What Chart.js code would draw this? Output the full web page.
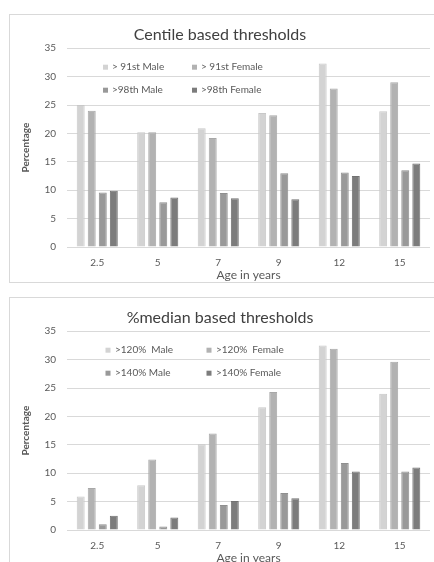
<!DOCTYPE html>
<html>
<head>
<meta charset="utf-8">
<script src="https://cdn.jsdelivr.net/npm/chart.js@4"></script>
<style>
  body { margin: 0; width: 434px; height: 562px; overflow: hidden; background: #fff; position: relative; }
  .frame { position: absolute; left: 9px; width: 425px; height: 267px; border: 1px solid #d9d9d9; }
  .frame canvas { display: block; }
</style>
</head>
<body>
<div class="frame" style="top:14px"><canvas id="centile" width="425" height="267"></canvas></div>
<div class="frame" style="top:297px"><canvas id="median" width="425" height="267"></canvas></div>
<script>
// categories
var ages = ['2.5', '5', '7', '9', '12', '15'];

// centile based thresholds
var centileLabels = ['> 91st Male', '> 91st Female', '>98th Male', '>98th Female'];
var centile91Male   = [25.0, 20.2, 20.9, 23.6, 32.3, 23.9];
var centile91Female = [24.0, 20.2, 19.2, 23.2, 27.9, 29.0];
var centile98Male   = [9.6, 7.9, 9.5, 13.0, 13.1, 13.5];
var centile98Female = [9.9, 8.7, 8.6, 8.4, 12.5, 14.7];

// %median based thresholds
var medianLabels = ['>120%  Male', '>120%  Female', '>140% Male', '>140% Female'];
var median120Male   = [5.9, 7.9, 15.1, 21.6, 32.5, 24.0];
var median120Female = [7.4, 12.4, 17.0, 24.3, 31.9, 29.6];
var median140Male   = [1.0, 0.6, 4.4, 6.5, 11.8, 10.3];
var median140Female = [2.5, 2.2, 5.1, 5.6, 10.3, 11.0];

var fills   = ['#d3d3d3', '#b2b2b2', '#999999', '#7c7c7c'];
var borders = ['#c8c8c8', '#a8a8a8', '#8f8f8f', '#727272'];
var FONT = 'Lato, "Open Sans", sans-serif';

// legend drawn inside the plot, 2 x 2
var insideLegend = {
  id: 'insideLegend',
  afterDatasetsDraw: function(chart, args, opts) {
    var ctx = chart.ctx, a = chart.chartArea;
    ctx.save();
    ctx.font = '10px ' + FONT;
    ctx.textBaseline = 'middle';
    chart.data.datasets.forEach(function(ds, i) {
      var x = a.left + opts.cols[i % 2];
      var y = a.top + opts.rows[Math.floor(i / 2)];
      ctx.fillStyle = ds.backgroundColor;
      ctx.fillRect(x - 2.5, y - 2.5, 5, 5);
      ctx.fillStyle = '#595959';
      ctx.fillText(ds.label, x + opts.gap, y);
    });
    ctx.restore();
  }
};

var drawChart = function(id, title, labels, series, legendCols, legendGap) {
  var ctx = document.getElementById(id).getContext('2d');
  var datasets = series.map(function(s, i) {
    return {
      label: labels[i], data: s,
      backgroundColor: fills[i], borderColor: borders[i], borderWidth: 1,
      categoryPercentage: 0.73, barPercentage: 0.72
    };
  });
  new Chart(ctx, {
    type: 'bar',
    data: { labels: ages, datasets: datasets },
    plugins: [insideLegend],
    options: {
      responsive: false,
      animation: false,
      layout: { padding: { left: 0, right: 5, top: 0, bottom: 0 } },
      plugins: {
        legend: { display: false },
        tooltip: { enabled: false },
        title: {
          display: true, text: title, color: '#404040',
          font: { family: FONT, size: 16, weight: 'normal' },
          padding: { top: 10, bottom: 4 }
        },
        insideLegend: { cols: legendCols, rows: [19, 42], gap: legendGap }
      },
      scales: {
        x: {
          grid: { display: false, drawTicks: false },
          border: { display: false },
          ticks: { color: '#595959', font: { family: FONT, size: 10 }, padding: 10 },
          title: { display: true, text: 'Age in years', color: '#595959',
                   font: { family: FONT, size: 12 }, padding: { top: 0, bottom: 0 } },
          afterFit: function(s) { s.height = 35; }
        },
        y: {
          min: 0, max: 35,
          grid: { color: '#d9d9d9', lineWidth: 1, drawTicks: false },
          border: { display: false },
          ticks: { stepSize: 5, color: '#595959', font: { family: FONT, size: 10 }, padding: 11 },
          title: { display: true, text: 'Percentage', color: '#595959',
                   font: { family: FONT, size: 10, weight: 'bold' }, padding: { top: 10, bottom: 0 } },
          afterFit: function(s) { s.width = 57; }
        }
      }
    }
  });
};

window.onload = function() {
  drawChart('centile', 'Centile based thresholds', centileLabels,
            [centile91Male, centile91Female, centile98Male, centile98Female], [38.5, 127.5], 6.5);
  drawChart('median', '%median based thresholds', medianLabels,
            [median120Male, median120Female, median140Male, median140Female], [41, 142], 7);
};
</script>
</body>
</html>
